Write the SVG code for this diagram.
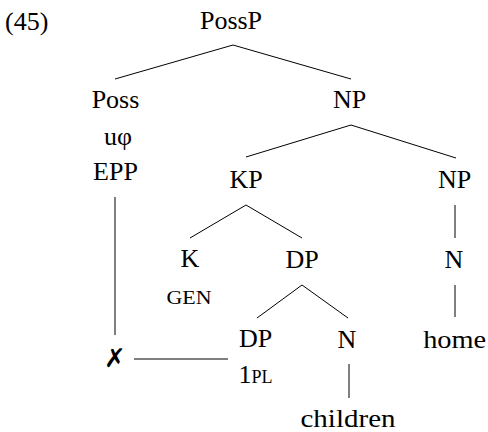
<svg xmlns="http://www.w3.org/2000/svg" width="488" height="432" viewBox="0 0 488 432">
<style>
text{font-family:'Liberation Serif','DejaVu Serif',serif;font-size:26px;fill:#000;text-anchor:middle}
.sc{font-size:18px}
.ex{font-family:'DejaVu Sans',sans-serif;font-size:26px}
.e line{stroke:#000;stroke-width:1;fill:none}
</style>
<rect width="488" height="432" fill="#fff"/>
<text x="5" y="30" style="text-anchor:start">(45)</text>
<g class="e" id="connectors">
<line x1="233" y1="45" x2="115" y2="79"/>
<line x1="233" y1="45" x2="351" y2="79"/>
<line x1="351" y1="125" x2="246" y2="157"/>
<line x1="351" y1="125" x2="456" y2="158"/>
<line x1="246" y1="205" x2="190" y2="238"/>
<line x1="246" y1="205" x2="302" y2="238"/>
<line x1="455" y1="205" x2="455" y2="238"/>
<line x1="302" y1="285" x2="257" y2="318"/>
<line x1="302" y1="285" x2="348" y2="318"/>
<line x1="455" y1="285" x2="455" y2="317"/>
<line x1="349" y1="364" x2="349" y2="398"/>
<line x1="115" y1="197" x2="115" y2="335"/>
<line x1="134" y1="359" x2="228" y2="359"/>
</g>
<g id="PossP"><text x="231" y="28.5">PossP</text></g>
<g id="Poss"><text x="115.5" y="108">Poss</text><text x="118" y="145">uφ</text><text x="115.5" y="180">EPP</text></g>
<g id="NP1"><text x="349.5" y="108">NP</text></g>
<g id="KP"><text x="246" y="188">KP</text></g>
<g id="NP2"><text x="454.7" y="188">NP</text></g>
<g id="K"><text x="190" y="267">K</text><text class="sc" x="189" y="304" textLength="45" lengthAdjust="spacingAndGlyphs">GEN</text></g>
<g id="DP1"><text x="302" y="268">DP</text></g>
<g id="N1"><text x="454" y="268">N</text></g>
<g id="DP2"><text x="255.5" y="347">DP</text><text x="255.5" y="383">1<tspan class="sc">PL</tspan></text></g>
<g id="N2"><text x="347" y="348">N</text></g>
<g id="home"><text x="454.7" y="348" textLength="63" lengthAdjust="spacingAndGlyphs">home</text></g>
<g id="children"><text x="348" y="427" textLength="95" lengthAdjust="spacingAndGlyphs">children</text></g>
<g id="X"><text class="ex" x="115" y="367">✗</text></g>
</svg>
